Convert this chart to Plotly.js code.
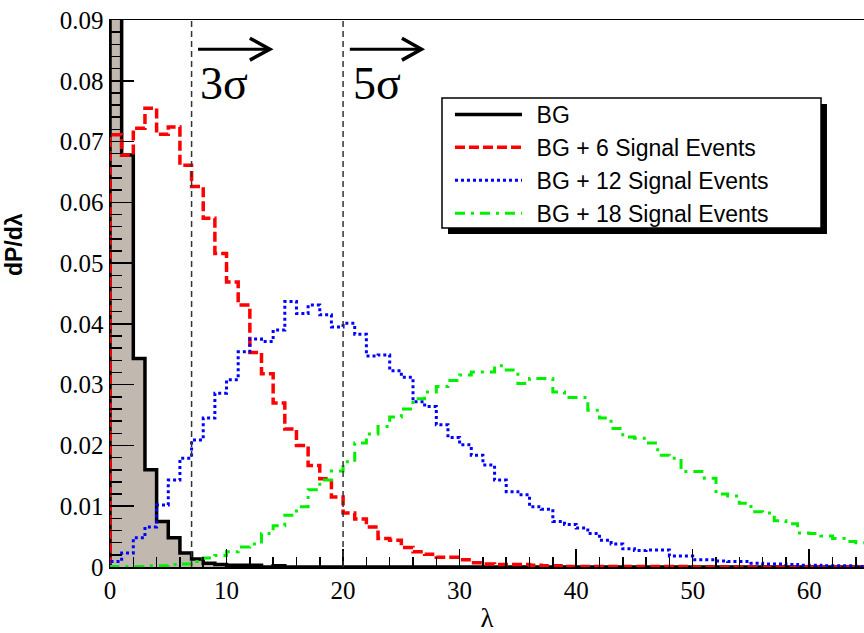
<!DOCTYPE html>
<html>
<head>
<meta charset="utf-8">
<script src="https://cdn.plot.ly/plotly-3.0.1.min.js"></script>
<style>html,body{margin:0;padding:0;background:#fff;}#chart{width:864px;height:633px;}</style>
</head>
<body>
<div id="chart"></div>
<script>
// Histogram bin contents, bins of width 1 starting at lambda = 0
var bgValues = [0.13, 0.0678, 0.0343, 0.0160, 0.0075, 0.0048, 0.0023, 0.0013, 0.0006, 0.0004,
  0.0003, 0.0003, 0.0003, 0.0000, 0.0002, 0, 0, 0, 0, 0,
  0, 0, 0, 0, 0, 0, 0, 0, 0, 0,
  0, 0, 0, 0, 0, 0, 0, 0, 0, 0,
  0, 0, 0, 0, 0, 0, 0, 0, 0, 0,
  0, 0, 0, 0, 0, 0, 0, 0, 0, 0,
  0, 0, 0, 0, 0];
var sig6Values = [0.0711, 0.0678, 0.0722, 0.0755, 0.0712, 0.0724, 0.0661, 0.0626, 0.0574, 0.0516,
  0.0469, 0.0431, 0.0353, 0.0318, 0.0270, 0.0227, 0.0200, 0.0167, 0.0145, 0.0115,
  0.0089, 0.0079, 0.0066, 0.0047, 0.0044, 0.0032, 0.0025, 0.0021, 0.0016, 0.0016,
  0.0012, 0.0007, 0.0005, 0.0004, 0.0004, 0.0004, 0.0003, 0.0002, 0.0002, 0.0001,
  0.0001, 0.0001, 0.0001, 0.0001, 0.0001, 0.0001, 0.0001, 0.0001, 0.0001, 0.0001,
  0, 0, 0, 0, 0, 0, 0, 0, 0, 0,
  0, 0, 0, 0, 0];
var sig12Values = [0.0009, 0.0023, 0.0048, 0.0066, 0.0102, 0.0143, 0.0179, 0.0209, 0.0245, 0.0286,
  0.0308, 0.0354, 0.0375, 0.0371, 0.0390, 0.0437, 0.0417, 0.0431, 0.0415, 0.0395,
  0.0401, 0.0383, 0.0347, 0.0349, 0.0323, 0.0312, 0.0272, 0.0264, 0.0234, 0.0213,
  0.0201, 0.0184, 0.0168, 0.0143, 0.0124, 0.0119, 0.0099, 0.0095, 0.0075, 0.0070,
  0.0064, 0.0055, 0.0044, 0.0038, 0.0030, 0.0027, 0.0028, 0.0028, 0.0018, 0.0018,
  0.0012, 0.0012, 0.0010, 0.0009, 0.0009, 0.0006, 0.0005, 0.0005, 0.0004, 0.0003,
  0.0003, 0.0002, 0.0002, 0.0002, 0.0001];
var sig18Values = [0.0001, 0.0001, 0.0001, 0.0002, 0.0002, 0.0004, 0.0005, 0.0009, 0.0015, 0.0019,
  0.0025, 0.0033, 0.0038, 0.0055, 0.0068, 0.0085, 0.0099, 0.0127, 0.0143, 0.0158,
  0.0173, 0.0204, 0.0219, 0.0231, 0.0247, 0.0260, 0.0277, 0.0288, 0.0297, 0.0307,
  0.0316, 0.0321, 0.0321, 0.0331, 0.0324, 0.0302, 0.0310, 0.0310, 0.0288, 0.0279,
  0.0279, 0.0258, 0.0245, 0.0228, 0.0214, 0.0212, 0.0204, 0.0184, 0.0179, 0.0157,
  0.0157, 0.0146, 0.0120, 0.0117, 0.0105, 0.0091, 0.0089, 0.0076, 0.0071, 0.0056,
  0.0055, 0.0051, 0.0047, 0.0042, 0.0040];
var seriesNames = ['BG', 'BG + 6 Signal Events', 'BG + 12 Signal Events', 'BG + 18 Signal Events'];
var binWidth = 1;
var xTickVals = [0, 10, 20, 30, 40, 50, 60];
var sigmaLines = [7, 20];
var sigmaLabels = ['3σ', '5σ'];

function stepXY(vals) {
  var x = [0], y = [0];
  for (var i = 0; i < vals.length; i++) { x.push(i * binWidth); y.push(vals[i]); }
  x.push(vals.length * binWidth); y.push(vals[vals.length - 1]);
  return {x: x, y: y};
}

var bg = stepXY(bgValues), s6 = stepXY(sig6Values), s12 = stepXY(sig12Values), s18 = stepXY(sig18Values);
var gap = '\u2005\u2006';

var traces = [
  {x: bg.x, y: bg.y, mode: 'lines', line: {shape: 'hv', width: 0, color: 'rgba(0,0,0,0)'},
   fill: 'tozeroy', fillcolor: '#c1b9b0', showlegend: false, hoverinfo: 'skip'},
  {x: bg.x, y: bg.y, mode: 'lines', name: gap + seriesNames[0], line: {shape: 'hv', width: 3.5, color: '#000000'}},
  {x: s6.x, y: s6.y, mode: 'lines', name: gap + seriesNames[1], line: {shape: 'hv', width: 3.5, color: '#ff0000', dash: '10px,4px'}},
  {x: s12.x, y: s12.y, mode: 'lines', name: gap + seriesNames[2], line: {shape: 'hv', width: 3, color: '#0000ff', dash: '3px,3px'}},
  {x: s18.x, y: s18.y, mode: 'lines', name: gap + seriesNames[3], line: {shape: 'hv', width: 3, color: '#00f000', dash: '10px,6px,3px,6px'}}
];

var serif = 'Liberation Serif';
var sans = 'Liberation Sans';

var shapes = [];
sigmaLines.forEach(function (v) {
  shapes.push({type: 'line', xref: 'x', yref: 'paper', x0: v, x1: v, y0: 0, y1: 1,
    line: {color: '#333333', width: 1.5, dash: '6px,4px'}});
});
// arrows
shapes.push({type: 'path', xref: 'x', yref: 'y', path: 'M7.55,0.0852 L13.72,0.0852', line: {color: '#000', width: 3}});
shapes.push({type: 'path', xref: 'x', yref: 'y', path: 'M12.0,0.0870 L13.72,0.0852 L12.0,0.0834', line: {color: '#000', width: 3.5}});
shapes.push({type: 'path', xref: 'x', yref: 'y', path: 'M20.58,0.0852 L26.73,0.0852', line: {color: '#000', width: 3}});
shapes.push({type: 'path', xref: 'x', yref: 'y', path: 'M25.05,0.0870 L26.73,0.0852 L25.05,0.0834', line: {color: '#000', width: 3.5}});
// legend box with shadow
shapes.push({type: 'rect', xref: 'paper', yref: 'paper', x0: 0.4483, x1: 0.9509, y0: 0.6088, y1: 0.8464,
  fillcolor: '#000', line: {width: 0}});
shapes.push({type: 'rect', xref: 'paper', yref: 'paper', x0: 0.4403, x1: 0.9430, y0: 0.6197, y1: 0.8574,
  fillcolor: '#fff', line: {color: '#000', width: 1.5}});

var annotations = [
  {x: 7.55, y: 0.0795, xref: 'x', yref: 'y', xanchor: 'left', yanchor: 'middle', showarrow: false,
   text: sigmaLabels[0], font: {family: serif, size: 46, color: '#000'}},
  {x: 20.7, y: 0.0795, xref: 'x', yref: 'y', xanchor: 'left', yanchor: 'middle', showarrow: false,
   text: sigmaLabels[1], font: {family: serif, size: 46, color: '#000'}},
  {x: -0.127, y: 0.589, xref: 'paper', yref: 'paper', xanchor: 'center', yanchor: 'middle', showarrow: false,
   textangle: -90, text: '<b>dP/dλ</b>', font: {family: sans, size: 23, color: '#000'}}
];

var layout = {
  width: 864, height: 633,
  margin: {l: 110, r: 0, t: 20, b: 66},
  paper_bgcolor: '#fff', plot_bgcolor: '#fff',
  font: {family: serif, size: 25, color: '#000'},
  showlegend: true,
  legend: {x: 0.4509, y: 0.8665, xanchor: 'left', yanchor: 'top', bgcolor: 'rgba(0,0,0,0)', borderwidth: 0,
    font: {family: sans, size: 23, color: '#000'}, itemwidth: 67, tracegroupgap: 0},
  xaxis: {range: [0, 64.7], tickvals: xTickVals, ticks: 'inside', ticklen: 18, tickwidth: 1.5, tickcolor: '#000',
    showline: true, linecolor: '#000', linewidth: 1.5, mirror: true, showgrid: false, zeroline: false,
    tickfont: {family: serif, size: 25, color: '#000'},
    minor: {dtick: 2, ticks: 'inside', ticklen: 10, tickwidth: 1.5, tickcolor: '#000', showgrid: false},
    title: {text: 'λ', font: {family: serif, size: 27, color: '#000'}, standoff: 6}},
  yaxis: {range: [0, 0.09], dtick: 0.01, ticks: 'inside', ticklen: 24, tickwidth: 1.5, tickcolor: '#000',
    showline: true, linecolor: '#000', linewidth: 1.5, showgrid: false, zeroline: false,
    tickfont: {family: serif, size: 25, color: '#000'},
    minor: {dtick: 0.002, ticks: 'inside', ticklen: 12, tickwidth: 1.5, tickcolor: '#000', showgrid: false}},
  shapes: shapes,
  annotations: annotations
};

Plotly.newPlot('chart', traces, layout, {displayModeBar: false, staticPlot: true});
</script>
</body>
</html>
